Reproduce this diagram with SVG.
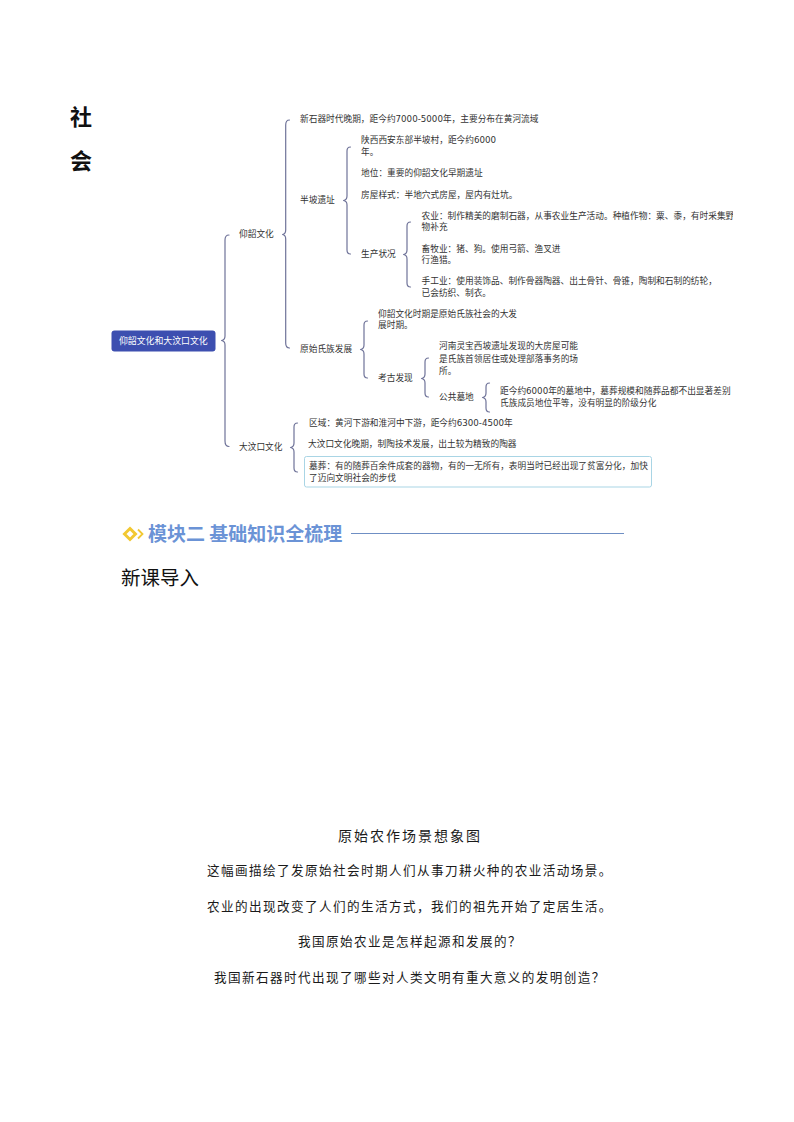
<svg xmlns="http://www.w3.org/2000/svg" width="794" height="1122" viewBox="0 0 794 1122">
<style>
text{font-family:"DejaVu Sans","Noto Sans CJK SC",sans-serif;fill:#333}
.t{font-size:8.7px}
.cap{font-family:"Noto Sans CJK SC",sans-serif;font-size:12.6px;letter-spacing:1.4px;fill:#1a1a1a}
.br{fill:none;stroke:#6f7399;stroke-width:1.2;stroke-linecap:round;stroke-linejoin:round}
</style>
<defs><clipPath id="cp"><rect x="0" y="0" width="733" height="1122"/></clipPath></defs>
<rect width="794" height="1122" fill="#fff"/>
<g id="title-side">
<text x="70" y="125" style="font-size:22px;font-weight:700;fill:#111;font-family:'Noto Sans CJK SC',sans-serif">社</text>
<text x="70" y="169" style="font-size:22px;font-weight:700;fill:#111;font-family:'Noto Sans CJK SC',sans-serif">会</text>
</g>
<g id="connectors">
<path class="br" d="M229 235Q225 235 225 240V336Q225 340 221.500 340.500Q225 341 225 345V441Q225 446.500 229 446.500"/>
<path class="br" d="M289.500 120Q285.700 120 285.700 125V230Q285.700 234 282.500 234.500Q285.700 235 285.700 239V343Q285.700 348 289.500 348"/>
<path class="br" d="M350.500 147Q347 147 347 151V196Q347 200 343.500 200.500Q347 201 347 205V250Q347 254 350.500 254"/>
<path class="br" d="M410.500 222Q407 222 407 226V250Q407 254 403.500 254.500Q407 255 407 259V283Q407 287 410.500 287"/>
<path class="br" d="M367.500 321Q364 321 364 325V345Q364 349 360.500 349.500Q364 350 364 354V374Q364 378 367.500 378"/>
<path class="br" d="M428.500 358Q425 358 425 362V374Q425 378 421.500 378.500Q425 379 425 383V393Q425 397 428.500 397"/>
<path class="br" d="M489.500 383Q486 383 486 387V393Q486 397 482.500 397.500Q486 398 486 402V408Q486 412 489.500 412"/>
<path class="br" d="M297.500 423Q294 423 294 427V443Q294 447 290.500 447.500Q294 448 294 452V468Q294 472 297.500 472"/>
</g>
<g id="root">
<rect x="111.500" y="330.500" width="104" height="21" rx="3" fill="#3d4fb0"/>
<text x="119" y="344" class="t" style="fill:#fff;font-size:8.900px">仰韶文化和大汶口文化</text>
</g>
<g id="yangshao"><text x="239" y="237" class="t">仰韶文化</text></g>
<g id="yangshao-time"><text x="300" y="122" class="t">新石器时代晚期，距今约7000-5000年，主要分布在黄河流域</text></g>
<g id="banpo"><text x="300" y="203" class="t">半坡遗址</text></g>
<g id="banpo-place"><text x="361" y="143" class="t">陕西西安东部半坡村，距今约6000</text><text x="361" y="155" class="t">年。</text></g>
<g id="banpo-status"><text x="361" y="176" class="t">地位：重要的仰韶文化早期遗址</text></g>
<g id="banpo-house"><text x="361" y="198" class="t">房屋样式：半地穴式房屋，屋内有灶坑。</text></g>
<g id="production"><text x="361" y="257" class="t">生产状况</text></g>
<g id="agriculture" clip-path="url(#cp)"><text x="421.500" y="219" class="t">农业：制作精美的磨制石器，从事农业生产活动。种植作物：粟、黍，有时采集野</text><text x="421.500" y="230" class="t">物补充</text></g>
<g id="husbandry"><text x="421.500" y="252" class="t">畜牧业：猪、狗。使用弓箭、渔叉进</text><text x="421.500" y="263" class="t">行渔猎。</text></g>
<g id="handicraft"><text x="421.500" y="284" class="t">手工业：使用装饰品、制作骨器陶器、出土骨针、骨锥，陶制和石制的纺轮，</text><text x="421.500" y="296" class="t">已会纺织、制衣。</text></g>
<g id="clan"><text x="300" y="352" class="t">原始氏族发展</text></g>
<g id="clan-period"><text x="378" y="317" class="t">仰韶文化时期是原始氏族社会的大发</text><text x="378" y="328" class="t">展时期。</text></g>
<g id="archaeology"><text x="378" y="381" class="t">考古发现</text></g>
<g id="xipo"><text x="439" y="349" class="t">河南灵宝西坡遗址发现的大房屋可能</text><text x="439" y="362" class="t">是氏族首领居住或处理部落事务的场</text><text x="439" y="374" class="t">所。</text></g>
<g id="cemetery"><text x="439" y="400" class="t">公共墓地</text></g>
<g id="cemetery-detail"><text x="500" y="394" class="t">距今约6000年的墓地中，墓葬规模和随葬品都不出显著差别</text><text x="500" y="406" class="t">氏族成员地位平等，没有明显的阶级分化</text></g>
<g id="dawenkou"><text x="239" y="450" class="t">大汶口文化</text></g>
<g id="dawenkou-region"><text x="309" y="426" class="t">区域：黄河下游和淮河中下游，距今约6300-4500年</text></g>
<g id="dawenkou-pottery"><text x="308" y="447" class="t">大汶口文化晚期，制陶技术发展，出土较为精致的陶器</text></g>
<g id="dawenkou-tomb">
<rect x="304.500" y="456.500" width="347" height="30.500" rx="2" fill="#fff" stroke="#a9d5e5" stroke-width="1"/>
<text x="309" y="469" class="t">墓葬：有的随葬百余件成套的器物，有的一无所有，表明当时已经出现了贫富分化，加快</text>
<text x="309" y="481" class="t">了迈向文明社会的步伐</text>
</g>
<g id="module-heading">
<path d="M130 528.500L135.500 534L130 539.500L124.500 534Z" fill="none" stroke="#f2c832" stroke-width="3"/>
<path d="M138 529.500L142.500 534L138 538.500" fill="none" stroke="#f2c832" stroke-width="1.800"/>
<text x="148" y="540.500" style="font-family:'Noto Sans CJK SC',sans-serif;font-size:19px;font-weight:700;fill:#6b93d6">模块二 基础知识全梳理</text>
<line x1="351" y1="533.500" x2="624" y2="533.500" stroke="#6f8fc4" stroke-width="1"/>
</g>
<g id="intro"><text x="121" y="585" style="font-family:'Noto Sans CJK SC',sans-serif;font-size:19.500px;fill:#111">新课导入</text></g>
<g id="caption">
<text x="338" y="841" class="cap" style="font-size:14px;letter-spacing:2px">原始农作场景想象图</text>
<text x="207" y="875" class="cap">这幅画描绘了发原始社会时期人们从事刀耕火种的农业活动场景。</text>
<text x="207" y="911" class="cap">农业的出现改变了人们的生活方式，我们的祖先开始了定居生活。</text>
<text x="298" y="946" class="cap">我国原始农业是怎样起源和发展的？</text>
<text x="214" y="982" class="cap">我国新石器时代出现了哪些对人类文明有重大意义的发明创造？</text>
</g>
</svg>
